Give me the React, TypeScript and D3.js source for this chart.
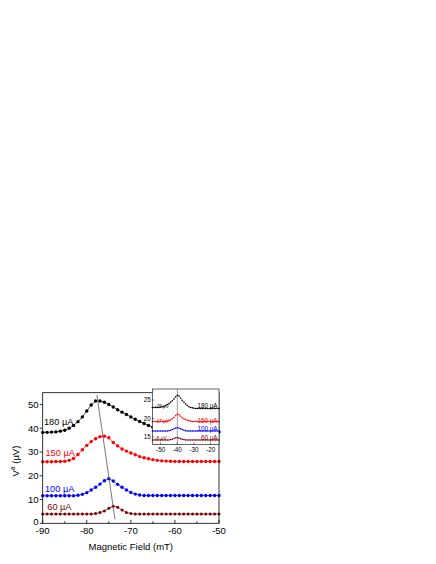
import React from 'react';
import * as d3 from 'd3';

// ---- main panel data ----
const fields = [-90,-89,-88,-87,-86,-85,-84,-83,-82,-81,-80,-79,-78,-77,-76,-75,-74,-73,-72,-71,-70,-69,-68,-67,-66,-65,-64,-63,-62,-61,-60,-59,-58,-57,-56,-55,-54,-53,-52,-51,-50];
const v180 = [38.3,38.3,38.4,38.5,38.8,39.2,40.0,41.2,42.8,44.8,47.3,49.8,51.5,51.5,51.0,50.0,49.0,47.8,46.8,45.8,44.8,43.8,42.9,42.0,41.2,40.5,40.0,39.6,39.3,39.1,38.9,38.8,38.7,38.6,38.6,38.5,38.5,38.5,38.5,38.5,38.5];
const v150 = [25.9,25.9,25.9,26.0,26.0,26.1,26.5,27.3,29.0,31.0,32.8,34.4,35.6,36.5,36.7,36.0,34.0,32.6,31.3,30.4,29.6,28.9,28.1,27.6,27.2,26.8,26.5,26.3,26.2,26.1,26.0,26.0,26.0,26.0,26.0,26.0,26.0,26.0,26.0,26.0,26.0];
const v100 = [11.6,11.6,11.6,11.6,11.6,11.6,11.6,11.6,11.8,12.2,12.9,14.0,15.2,16.5,17.9,18.8,17.8,16.4,15.2,14.0,13.0,12.3,11.9,11.7,11.7,11.7,11.7,11.7,11.7,11.7,11.7,11.7,11.7,11.7,11.7,11.7,11.7,11.7,11.7,11.7,11.7];
const v60 = [3.9,3.9,3.9,3.9,3.9,3.9,3.9,3.9,3.9,3.9,3.9,3.9,4.1,4.5,5.2,6.3,7.2,6.8,5.6,4.6,4.1,3.9,3.9,3.9,3.9,3.9,3.9,3.9,3.9,3.9,3.9,3.9,3.9,3.9,3.9,3.9,3.9,3.9,3.9,3.9,3.9];
const peakLine = [{ f: -77.7, v: 54.0 }, { f: -73.6, v: 1.7 }];
const xTicks = [-90, -80, -70, -60, -50];
const xMinor = [-85, -75, -65, -55];
const yTicks = [0, 10, 20, 30, 40, 50];
const seriesLabels = ['180 µA', '150 µA', '100 µA', '60 µA'];

// ---- inset data ----
const insetFields = [-55,-54,-53,-52,-51,-50,-49,-48,-47,-46,-45,-44,-43,-42,-41,-40,-39,-38,-37,-36,-35,-34,-33,-32,-31,-30,-29,-28,-27,-26,-25,-24,-23,-22,-21,-20,-19,-18,-17,-16,-15];
const i180 = [23.0,23.0,23.0,23.0,23.0,23.1,23.2,23.3,23.5,23.8,24.1,24.4,24.8,25.3,25.9,26.3,26.1,25.5,24.9,24.4,23.9,23.5,23.2,23.0,22.9,22.8,22.7,22.7,22.7,22.7,22.7,22.7,22.7,22.7,22.7,22.7,22.7,22.7,22.7,22.7,22.7];
const i150 = [19.2,19.2,19.2,19.2,19.2,19.2,19.2,19.2,19.2,19.3,19.4,19.6,19.9,20.3,20.8,21.2,21.0,20.6,20.2,19.9,19.7,19.5,19.4,19.3,19.2,19.2,19.2,19.2,19.2,19.2,19.2,19.2,19.2,19.2,19.2,19.2,19.2,19.2,19.2,19.2,19.2];
const i100 = [16.6,16.6,16.6,16.6,16.6,16.6,16.6,16.6,16.6,16.6,16.7,16.8,17.0,17.2,17.4,17.5,17.4,17.2,17.0,16.8,16.7,16.6,16.6,16.6,16.6,16.6,16.6,16.6,16.6,16.6,16.6,16.6,16.6,16.6,16.6,16.6,16.6,16.6,16.6,16.6,16.6];
const i60 = [14.2,14.2,14.2,14.2,14.2,14.2,14.2,14.2,14.2,14.2,14.2,14.3,14.4,14.6,14.8,14.8,14.7,14.5,14.4,14.3,14.2,14.2,14.2,14.2,14.2,14.2,14.2,14.2,14.2,14.2,14.2,14.2,14.2,14.2,14.2,14.2,14.2,14.2,14.2,14.2,14.2];
const insetMarker = -40;
const insetXTicks = [-50, -40, -30, -20];
const insetYTicks = [15, 20, 25];
const insetOffsets = ['-20 µV', '-17 µV', '', '-8 µV'];

const colors = ['#000000', '#ff0000', '#0000ff', '#800000'];
const FONT = "Arial, 'Liberation Sans', sans-serif";

export default function App() {
  const x = d3.scaleLinear().domain([-90, -50]).range([42.7, 219]);
  const y = d3.scaleLinear().domain([0, 55]).range([523.3, 392.7]);
  const ix = d3.scaleLinear().domain([-55, -15]).range([152.3, 219]);
  const iy = d3.scaleLinear().domain([13, 28]).range([444.3, 389]);

  const main = [v180, v150, v100, v60];
  const inset = [i180, i150, i100, i60];
  const line = d3.line<number>().x((_, i) => x(fields[i])).y((d) => y(d));
  const iline = d3.line<number>().x((_, i) => ix(insetFields[i])).y((d) => iy(d));

  const labelPos = [
    { x: 44, y: 425 },
    { x: 45.5, y: 456 },
    { x: 45, y: 491.5 },
    { x: 47.3, y: 510 },
  ];
  const insetRightY = [408, 422.5, 430.5, 439.5];
  const insetLeftY = [408.3, 422.5, 0, 439.5];

  return (
    <svg width={436} height={564} style={{ position: 'absolute', left: 0, top: 0 }} fontFamily={FONT}>
      <rect x={0} y={0} width={436} height={564} fill="#fff" />
      {/* main series */}
      {main.map((vals, k) => (
        <g key={k}>
          <path d={line(vals) || ''} fill="none" stroke={colors[k]} strokeWidth={0.7} />
          {vals.map((v, i) => (
            <circle key={i} cx={x(fields[i])} cy={y(v)} r={k === 3 ? 1.5 : 1.7} fill={colors[k]} />
          ))}
        </g>
      ))}
      <line x1={x(peakLine[0].f)} y1={y(peakLine[0].v)} x2={x(peakLine[1].f)} y2={y(peakLine[1].v)} stroke="#555" strokeWidth={0.8} />
      {seriesLabels.map((t, k) => (
        <text key={k} x={labelPos[k].x} y={labelPos[k].y} fontSize={9.2} fill={colors[k]}>{t}</text>
      ))}
      {/* main frame */}
      <rect x={42.7} y={392.7} width={219 - 42.7} height={523.3 - 392.7} fill="none" stroke="#000" strokeWidth={0.8} />
      {xTicks.map((t) => (
        <g key={t}>
          <line x1={x(t)} x2={x(t)} y1={523.3} y2={519.8} stroke="#000" strokeWidth={0.8} />
          <text x={x(t)} y={534.2} fontSize={9.5} textAnchor="middle">{t}</text>
        </g>
      ))}
      {xMinor.map((t) => (
        <line key={t} x1={x(t)} x2={x(t)} y1={523.3} y2={521.3} stroke="#000" strokeWidth={0.8} />
      ))}
      {yTicks.map((t) => (
        <g key={t}>
          <line x1={42.7} x2={39.7} y1={y(t)} y2={y(t)} stroke="#000" strokeWidth={0.8} />
          <text x={38.5} y={t === 0 ? y(t) + 1.6 : y(t) + 3.4} fontSize={9.5} textAnchor="end">{t}</text>
        </g>
      ))}
      <text x={130.8} y={550} fontSize={9.5} textAnchor="middle">Magnetic Field (mT)</text>
      <text transform="translate(18.5,461) rotate(-90)" fontSize={9.5} textAnchor="middle">
        V<tspan fontSize={6.5} dy={-3.5}>a</tspan><tspan dy={3.5}> (µV)</tspan>
      </text>

      {/* inset */}
      <rect x={152.3} y={389} width={219 - 152.3} height={444.3 - 389} fill="#fff" />
      <line x1={ix(insetMarker)} x2={ix(insetMarker)} y1={389} y2={444.3} stroke="#777" strokeWidth={0.7} />
      {inset.map((vals, k) => (
        <g key={k}>
          <path d={iline(vals) || ''} fill="none" stroke={colors[k]} strokeWidth={0.4} />
          {vals.map((v, i) => (
            <circle key={i} cx={ix(insetFields[i])} cy={iy(v)} r={0.75} fill={colors[k]} />
          ))}
        </g>
      ))}
      {seriesLabels.map((t, k) => (
        <text key={k} x={217.5} y={insetRightY[k]} fontSize={6.3} fill={colors[k]} textAnchor="end">{t}</text>
      ))}
      {insetOffsets.map((t, k) => t ? (
        <text key={k} x={154.8} y={insetLeftY[k]} fontSize={4.8} fontStyle="italic" fill={colors[k]}>{t}</text>
      ) : null)}
      <rect x={152.3} y={389} width={219 - 152.3} height={444.3 - 389} fill="none" stroke="#000" strokeWidth={0.6} />
      {insetXTicks.map((t) => (
        <g key={t}>
          <line x1={ix(t)} x2={ix(t)} y1={444.3} y2={442.3} stroke="#000" strokeWidth={0.5} />
          <text x={ix(t)} y={452.3} fontSize={6.3} textAnchor="middle">{t}</text>
        </g>
      ))}
      {insetYTicks.map((t) => (
        <g key={t}>
          <line x1={152.3} x2={154.3} y1={iy(t)} y2={iy(t)} stroke="#000" strokeWidth={0.5} />
          <text x={150.8} y={iy(t) + 2.2} fontSize={6.3} textAnchor="end">{t}</text>
        </g>
      ))}
    </svg>
  );
}
